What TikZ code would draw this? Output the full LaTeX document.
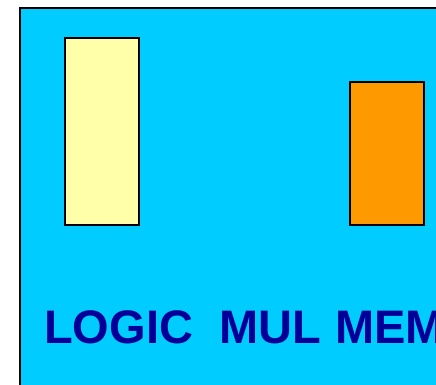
\documentclass[tikz,border=0pt]{standalone}
\usepackage{fontspec}
\setmainfont{Liberation Sans}
\definecolor{bgcyan}{HTML}{00CCFF}
\definecolor{pale}{HTML}{FFFFAA}
\definecolor{orng}{HTML}{FF9900}
\definecolor{navy}{HTML}{000099}
\begin{document}
\begin{tikzpicture}[x=1pt,y=-1pt,
  box/.style={draw=black,line width=1.2pt},
  lbl/.style={text=navy,font=\fontsize{47}{50}\selectfont\bfseries,anchor=base west,inner sep=0pt}]
\useasboundingbox (0,0) rectangle (436,385);
\clip (0,0) rectangle (436,385);
\fill[white] (0,0) rectangle (436,385);
\draw[box,fill=bgcyan] (20,8) rectangle (445,395);
\node[box,fill=pale,minimum width=74pt,minimum height=187pt,inner sep=0pt] (logic) at (102,131.5) {};
\node[box,fill=orng,minimum width=74pt,minimum height=143pt,inner sep=0pt] (mem) at (387,153.5) {};
\node[lbl] (t1) at (44,343) {LOGIC};
\node[lbl] (t2) at (219,343) {MUL};
\node[lbl] (t3) at (335,343) {MEM};
\end{tikzpicture}
\end{document}
